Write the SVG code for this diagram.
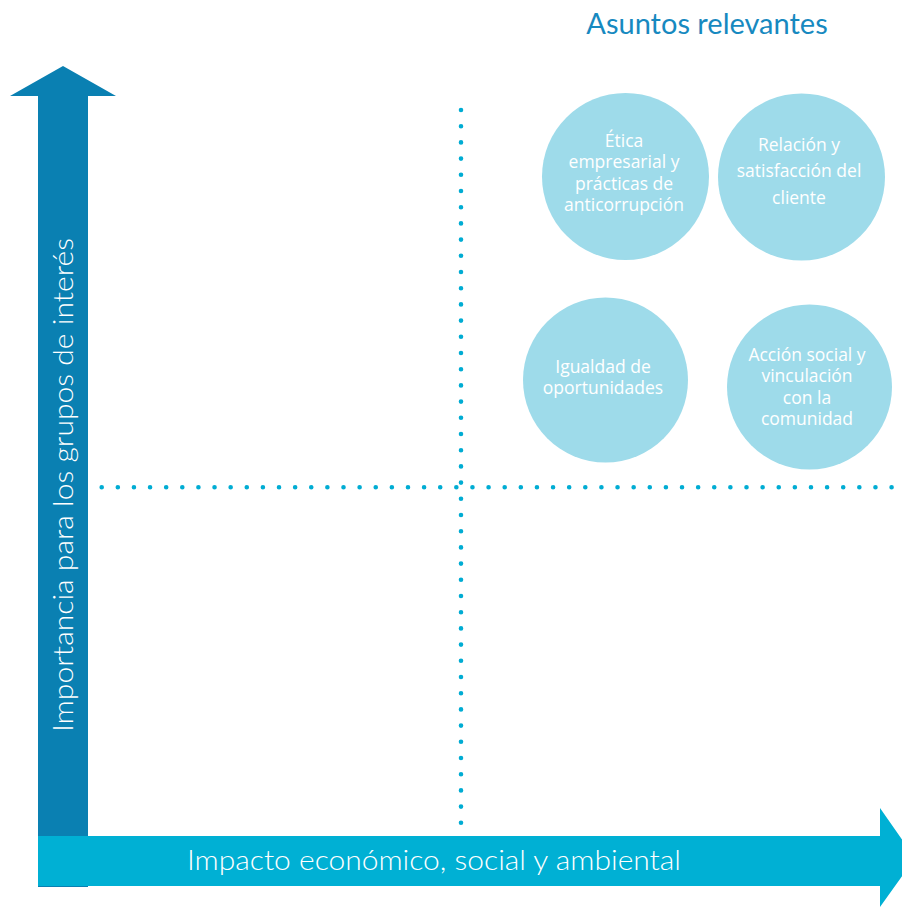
<svg xmlns="http://www.w3.org/2000/svg" width="902" height="907" viewBox="0 0 902 907">
<style>
.bubble{fill:#9edbea}
.btxt{fill:#ffffff;font-family:"Open Sans","Liberation Sans",sans-serif;font-size:17.5px;font-weight:400;text-anchor:middle}
.axis{fill:#ffffff;font-family:Lato,"Open Sans","Liberation Sans",sans-serif;font-size:28px;font-weight:300}
.dots{fill:none;stroke:#00acd3;stroke-width:4.6;stroke-linecap:round}
</style>
<rect width="902" height="907" fill="#ffffff"/>
<text x="707" y="34" font-family="Lato,'Open Sans',sans-serif" font-size="29" fill="#1789c0" text-anchor="middle">Asuntos relevantes</text>
<g id="connectors">
<line class="dots" x1="461" y1="110" x2="461" y2="823" stroke-dasharray="0 16.2"/>
<line class="dots" x1="101.7" y1="487.3" x2="891.7" y2="487.3" stroke-dasharray="0 16.12"/>
</g>
<g id="y-axis">
<polygon points="63,66 116,96 88,96 88,887 38,887 38,96 10,96" fill="#0a80b2"/>
<text class="axis" transform="translate(73,485) rotate(-90)" text-anchor="middle" textLength="494" lengthAdjust="spacingAndGlyphs">Importancia para los grupos de interés</text>
</g>
<g id="x-axis">
<polygon points="38,836 880,836 880,808 915,858 880,907 880,886 38,886" fill="#00b0d4"/>
<text class="axis" x="187" y="870" textLength="494" lengthAdjust="spacingAndGlyphs">Impacto económico, social y ambiental</text>
</g>
<g id="etica">
<circle class="bubble" cx="625.5" cy="176.5" r="83.5"/>
<text class="btxt"><tspan x="624" y="147">Ética</tspan><tspan x="624" y="168">empresarial y</tspan><tspan x="624" y="190">prácticas de</tspan><tspan x="624" y="211">anticorrupción</tspan></text>
</g>
<g id="relacion">
<circle class="bubble" cx="801.5" cy="177" r="83.5"/>
<text class="btxt"><tspan x="799" y="151">Relación y</tspan><tspan x="799" y="177">satisfacción del</tspan><tspan x="799" y="204">cliente</tspan></text>
</g>
<g id="igualdad">
<circle class="bubble" cx="605.5" cy="380" r="82.5"/>
<text class="btxt"><tspan x="603" y="373">Igualdad de</tspan><tspan x="603" y="394">oportunidades</tspan></text>
</g>
<g id="accion">
<circle class="bubble" cx="809.5" cy="387" r="82.5"/>
<text class="btxt"><tspan x="807" y="361">Acción social y</tspan><tspan x="807" y="382">vinculación</tspan><tspan x="807" y="404">con la</tspan><tspan x="807" y="425">comunidad</tspan></text>
</g>
</svg>
